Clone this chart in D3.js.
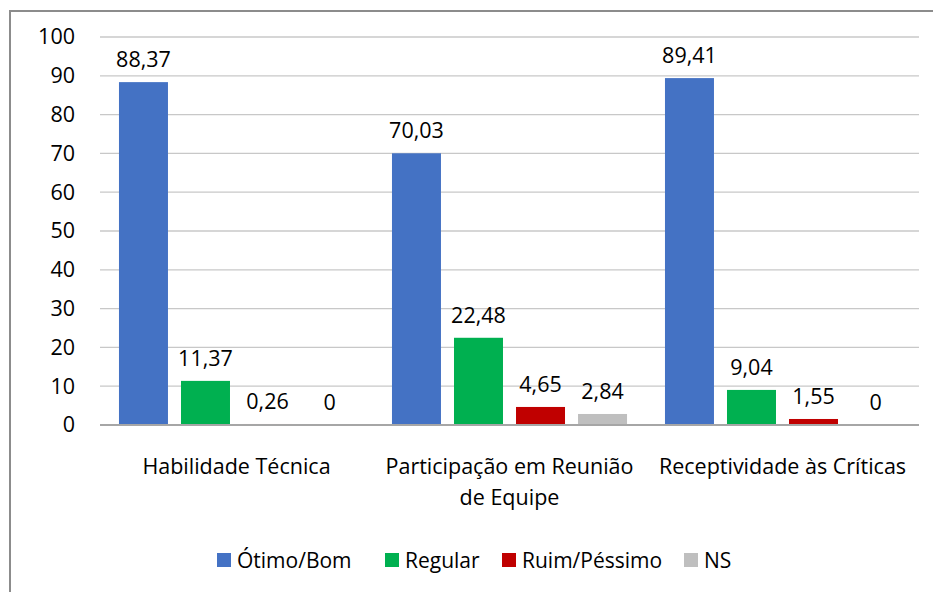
<!DOCTYPE html>
<html>
<head>
<meta charset="utf-8">
<script src="https://cdn.jsdelivr.net/npm/d3@7"></script>
<style>
  body { margin: 0; background: #fff; }
  svg text { font-family: "Open Sans", Lato, sans-serif; fill: #000; }
</style>
</head>
<body>
<svg id="chart" width="933" height="592"></svg>
<script>
const categories = ["Habilidade Técnica", "Participação em Reunião de Equipe", "Receptividade às Críticas"]
const categoryLines = [["Habilidade Técnica"], ["Participação em Reunião", "de Equipe"], ["Receptividade às Críticas"]]
const seriesNames = ["Ótimo/Bom", "Regular", "Ruim/Péssimo", "NS"]
const seriesColors = ["#4472c4", "#00b050", "#c00000", "#bfbfbf"]
const otimoBom = [88.37, 70.03, 89.41]
const regular = [11.37, 22.48, 9.04]
const ruimPessimo = [0.26, 4.65, 1.55]
const ns = [0, 2.84, 0]
const yTicks = [0, 10, 20, 30, 40, 50, 60, 70, 80, 90, 100]

const values = [otimoBom, regular, ruimPessimo, ns]
const fmt = v => String(v).replace(".", ",")
const fs = 21.5

const svg = d3.select("#chart")

// outer frame
svg.append("rect")
  .attr("x", 10).attr("y", 11)
  .attr("width", 940).attr("height", 600)
  .attr("fill", "none").attr("stroke", "#8c8c8c").attr("stroke-width", 2)

const plotLeft = 100, plotRight = 919, plotTop = 37, plotBottom = 425

const x0 = d3.scaleBand().domain(categories).range([plotLeft, plotRight]).paddingInner(0.139).paddingOuter(0.0695)
const x1 = d3.scaleBand().domain(seriesNames).range([0, x0.bandwidth()]).paddingInner(0.21).paddingOuter(0)
const y = d3.scaleLinear().domain([0, 100]).range([plotBottom, plotTop])

// gridlines
svg.append("g")
  .selectAll("line")
  .data(yTicks.filter(d => d > 0))
  .join("line")
  .attr("x1", plotLeft).attr("x2", plotRight)
  .attr("y1", d => y(d)).attr("y2", d => y(d))
  .attr("stroke", "#c8c8c8").attr("stroke-width", 1.3)

// y axis labels
const yAxis = d3.axisLeft(y).tickValues(yTicks).tickSize(0).tickPadding(25)
const yg = svg.append("g").attr("transform", "translate(" + plotLeft + ",0)").call(yAxis)
yg.select(".domain").remove()
yg.selectAll("text").attr("font-size", fs).style("font-family", "'Open Sans', sans-serif")

// bars
const rows = []
categories.forEach((c, ci) => {
  seriesNames.forEach((s, si) => {
    rows.push({ cat: c, ser: s, si: si, v: values[si][ci] })
  })
})

const bars = svg.append("g")
bars.selectAll("rect")
  .data(rows)
  .join("rect")
  .attr("x", d => x0(d.cat) + x1(d.ser))
  .attr("y", d => y(d.v))
  .attr("width", x1.bandwidth())
  .attr("height", d => y(0) - y(d.v))
  .attr("fill", d => seriesColors[d.si])

// value labels
bars.selectAll("text")
  .data(rows)
  .join("text")
  .attr("x", d => x0(d.cat) + x1(d.ser) + x1.bandwidth() / 2)
  .attr("y", d => y(d.v) - 15)
  .attr("text-anchor", "middle")
  .attr("font-size", fs)
  .text(d => fmt(d.v))

// x axis baseline
svg.append("line")
  .attr("x1", plotLeft).attr("x2", plotRight)
  .attr("y1", y(0)).attr("y2", y(0))
  .attr("stroke", "#a6a6a6").attr("stroke-width", 2)

// category labels
const cl = svg.append("g").selectAll("text")
  .data(categories)
  .join("text")
  .attr("x", d => x0(d) + x0.bandwidth() / 2)
  .attr("y", 474)
  .attr("text-anchor", "middle")
  .attr("font-size", fs)
cl.selectAll("tspan")
  .data((d, i) => categoryLines[i])
  .join("tspan")
  .attr("x", function() { return d3.select(this.parentNode).attr("x") })
  .attr("dy", (d, i) => i === 0 ? 0 : 31)
  .text(d => d)

// legend
const legendX = [217, 385, 502, 684]
const lg = svg.append("g").selectAll("g")
  .data(seriesNames)
  .join("g")
  .attr("transform", (d, i) => "translate(" + legendX[i] + ",553)")
lg.append("rect").attr("width", 14).attr("height", 14).attr("fill", (d, i) => seriesColors[i])
lg.append("text").attr("x", 20).attr("y", 15).attr("font-size", 21).text(d => d)
</script>
</body>
</html>
